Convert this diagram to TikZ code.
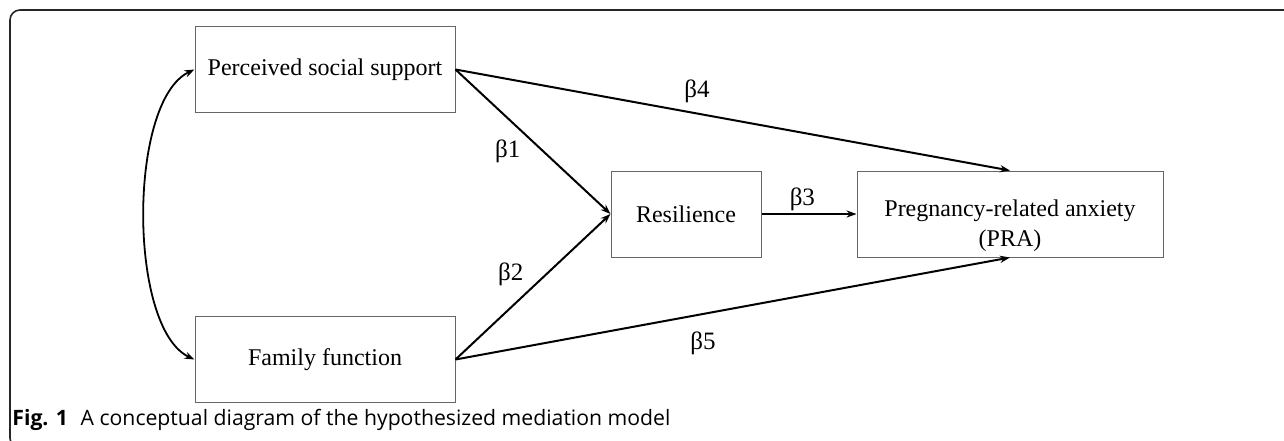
\documentclass[tikz,border=0pt]{standalone}
\usepackage{fontspec}
\setmainfont{Liberation Serif}
\setsansfont{Open Sans}
\usetikzlibrary{arrows.meta,positioning}

\begin{document}
\begin{tikzpicture}[>={Stealth[length=5pt,width=3.6pt]},on grid,auto,
  var/.style={draw=black!60,line width=0.5pt,minimum width=130pt,minimum height=43pt,
    inner sep=2pt,font=\fontsize{12}{15}\selectfont},
  link/.style={->,line width=1pt},
  coef/.style={font=\fontsize{12.5}{15}\selectfont,inner sep=2pt}]
\useasboundingbox (0,0) rectangle (642pt,-220pt);
% frame of the figure
\draw[black!85,line width=0.8pt,rounded corners=5pt]
  (642pt,-5pt) -- (5pt,-5pt) -- (5pt,-224pt) -- (20pt,-224pt);
\node[var] (pss) at (162.5pt,-34.75pt) {Perceived social support};
\node[var] (ff) [below=145pt of pss] {Family function};
\node[var,minimum width=75pt] (res) [below right=72.25pt and 180.5pt of pss] {Resilience};
\node[var,minimum width=153pt,
  label={[align=center,font=\fontsize{12}{15}\selectfont,yshift=-6pt]center:Pregnancy-related anxiety\\(PRA)}]
  (pra) [right=162pt of res] {};
\path[link]
(pss.east) edge node[coef,swap,pos=0.45] {β1} (res.west)
(ff.east) edge node[coef,pos=0.47] {β2} (res.west)
(res) edge node[coef,inner sep=1pt,pos=0.43] {β3} (pra)
(pss.east) edge node[coef,inner sep=3pt,pos=0.40] {β4} (pra.north)
(ff.east) edge node[coef,swap,inner sep=6pt,pos=0.40] {β5} (pra.south);
\draw[<->,line width=0.9pt] (pss.west) to[out=205,in=155,looseness=0.65] (ff.west);
\node[anchor=west,inner sep=0pt,font=\sffamily\fontsize{10.6}{12}\selectfont] (cap) at (6pt,-210pt)
  {\textbf{Fig. 1}\hspace{0.6em}A conceptual diagram of the hypothesized mediation model};
\end{tikzpicture}
\end{document}
